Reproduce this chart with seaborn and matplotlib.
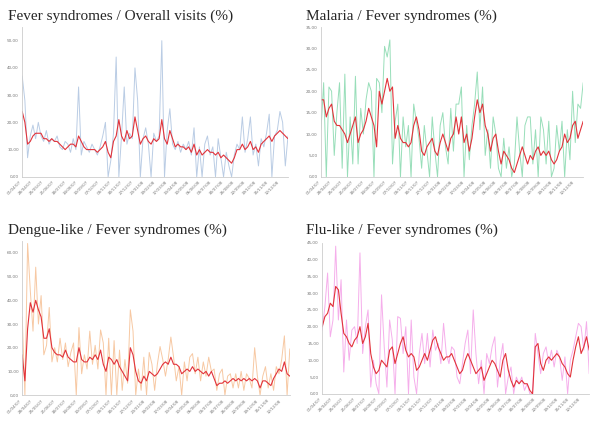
import seaborn as sns
import matplotlib.pyplot as plt
import pandas as pd

# valeurs (echantillon tous les ~6 jours)
fievre_brut = [37, 28, 7, 15, 19, 14, 20, 15, 13, 17, 12, 14, 13, 15, 11, 10, 13, 12, 9, 14,
               10, 33, 8, 13, 11, 9, 12, 10, 8, 11, 15, 20, 0, 6, 16, 44, 0, 15, 33, 12,
               16, 14, 40, 28, 0, 14, 18, 12, 0, 16, 13, 15, 50, 0, 17, 25, 12, 10, 13, 9,
               12, 10, 13, 8, 18, 0, 11, 0, 12, 15, 8, 11, 0, 14, 7, 0, 9, 4, 0, 8,
               12, 10, 22, 9, 14, 22, 8, 12, 4, 14, 11, 16, 23, 0, 15, 17, 24, 20, 4, 15]
fievre_moy = [24, 20, 12, 13, 15, 16, 16, 16, 14, 14, 13, 14, 13, 13, 12, 11, 10, 11, 12, 12,
              11, 15, 13, 11, 10, 10, 10, 10, 9, 10, 11, 13, 9, 7, 13, 15, 21, 15, 13, 17,
              14, 15, 22, 17, 12, 14, 15, 13, 12, 14, 13, 14, 21, 14, 12, 17, 14, 11, 12, 11,
              11, 10, 11, 9, 12, 8, 10, 8, 9, 10, 9, 9, 8, 9, 7, 8, 7, 6, 5, 7,
              10, 10, 12, 10, 11, 13, 10, 11, 9, 12, 13, 14, 15, 13, 15, 16, 17, 16, 15, 14]

palu_brut = [11, 22, 0, 21, 20, 5, 15, 22, 2, 24, 0, 14, 3, 23.5, 3, 16, 10, 18, 22, 20,
             0, 23, 22, 15, 30.5, 28, 32, 3, 13, 17, 0, 14, 7, 12, 0, 17, 13, 9, 2, 12,
             6, 0, 14, 6, 0, 12, 15, 7, 3, 16, 6, 17, 17, 21, 0, 12, 4, 12, 17, 24.5,
             11, 21, 5, 11, 2, 14, 10, 2, 0, 9, 2, 7, 0, 3, 14, 6, 0, 12, 14, 14,
             3, 11, 0, 14, 11, 3, 13, 0, 2, 12, 6, 13, 0, 11, 4, 20, 8, 17, 16, 22]
palu_moy = [18, 18, 14, 16, 17, 13, 12, 12, 11, 10, 8, 10, 12, 14, 8, 10, 11, 13, 16, 14,
            12, 7, 20, 17, 20, 23, 20, 21, 9, 12, 9, 8, 8, 7, 8, 12, 14, 11, 6, 5,
            7, 8, 9, 6, 5, 8, 10, 8, 6, 9, 10, 14, 10, 14, 8, 10, 6, 9, 14, 18,
            15, 17, 12, 10, 6, 9, 10, 6, 3, 6, 5, 4, 2, 1, 3, 5, 7, 5, 3, 5,
            4, 6, 7, 5, 6, 5, 6, 4, 3, 4, 6, 7, 10, 8, 9, 12, 13, 9, 11, 13]

dengue_brut = [33, 0, 64, 44, 27, 54, 30, 42, 17, 21, 37, 14, 20, 14, 24, 15, 22, 12, 18, 22,
               0, 28.5, 9, 17, 11, 27, 13, 21, 11, 27.5, 22, 0, 24, 0, 23, 0, 19, 2, 15, 5,
               36, 27, 0, 11, 2, 16, 0, 18, 13, 2, 13, 20.5, 15, 8, 15, 24.5, 16, 6, 12, 0,
               14, 6, 16, 17.5, 9, 16, 6, 14, 8, 16, 10, 11, 2, 9, 11, 0, 8, 9, 3, 9,
               3, 10, 2, 9, 7, 3, 20, 8, 0, 8, 12, 3, 9, 2, 12, 9, 15, 25, 0, 19.5]
dengue_moy = [17, 6, 28, 39, 35, 40, 36, 33, 24, 24, 28, 20, 18, 17, 17, 16, 19, 16, 15, 14,
              14, 20, 15, 14, 14, 16, 15, 17, 15, 19, 13, 10, 16, 15, 13, 15, 12, 10, 8, 6,
              20, 17, 10, 6, 5, 8, 6, 10, 9, 8, 9, 11, 13, 14, 13, 16, 13, 13, 12, 9,
              10, 11, 10, 12, 10, 11, 10, 9, 10, 8, 10, 7, 4, 5, 5, 6, 5, 6, 7, 6,
              7, 6, 7, 6, 7, 6, 7, 6, 3, 6, 6, 5, 4, 7, 9, 11, 10, 14, 9, 8]

grippe_brut = [19, 26, 36, 17, 22, 44, 22, 34, 6.5, 22, 10, 19, 20, 15, 42, 12, 20, 25, 2, 10,
               3, 0, 29.5, 14, 2, 22, 16, 0, 23, 22.5, 12, 20, 0, 22, 5, 0, 12, 18, 9, 18,
               8, 19, 13, 15, 9, 21, 12, 9, 14, 13, 5, 3, 9, 15, 19, 6, 25, 12, 3, 10,
               0, 12, 9, 14, 17, 2, 10, 15, 0, 5, 8, 0, 5, 3, 5, 1, 3, 0, 0, 18,
               12, 6, 12, 14, 9, 13, 8, 13, 11, 4, 11, 0, 10, 13, 17, 21, 20, 13, 21.5, 6]
grippe_moy = [20, 23, 24, 27, 26, 32, 31, 24, 18, 17, 15, 14, 16, 17, 20, 15, 17, 21, 12, 8,
              6, 7, 10, 9, 8, 13, 14, 9, 12, 15, 17, 13, 11, 12, 11, 7, 8, 10, 12, 10,
              13, 16, 17, 14, 12, 10, 11, 11, 12, 10, 8, 6, 7, 10, 12, 10, 8, 6, 7, 8,
              4, 6, 8, 10, 9, 7, 5, 10, 12, 7, 4, 2, 4, 3, 4, 3, 3, 1, 0, 14,
              15, 9, 7, 10, 11, 10, 11, 12, 11, 9, 8, 6, 5, 10, 14, 17, 12, 14, 17, 13]

titres = ["Fever syndromes / Overall visits (%)", "Malaria / Fever syndromes (%)",
          "Dengue-like / Fever syndromes (%)", "Flu-like / Fever syndromes (%)"]
couleurs = ["#a9c0de", "#7fd6a8", "#f5bb8c", "#f39ae6"]
y_max = [55, 35, 65, 45]
y_pas = [10, 5, 10, 5]

dates = pd.date_range("2007-04-01", "2008-12-31", periods=100)
graduations = pd.date_range("2007-04-01", "2008-12-31", freq="27D")

sns.set_style("white")
plt.rcParams['font.family'] = ['DejaVu Sans']

fig = plt.figure(figsize=(6, 4.23), dpi=100)
positions = [[0.037, 0.582, 0.443, 0.354], [0.535, 0.582, 0.437, 0.354],
             [0.037, 0.066, 0.446, 0.364], [0.537, 0.069, 0.445, 0.357]]
series = [(fievre_brut, fievre_moy), (palu_brut, palu_moy),
          (dengue_brut, dengue_moy), (grippe_brut, grippe_moy)]

for k in range(4):
    ax = fig.add_axes(positions[k])
    brut, moy = series[k]
    df = pd.DataFrame({"date": dates, "brut": brut, "moy": moy})
    sns.lineplot(data=df, x="date", y="brut", ax=ax, color=couleurs[k], lw=0.7, alpha=0.8)
    sns.lineplot(data=df, x="date", y="moy", ax=ax, color="#e2333b", lw=0.8)
    ax.set_xlim(dates[0], dates[-1])
    ax.set_ylim(0, y_max[k])
    yt = list(range(0, y_max[k] + 1, y_pas[k]))
    ax.set_yticks(yt)
    ax.set_yticklabels([f"{v},00" for v in yt], fontsize=3, color="#777777")
    ax.set_xticks(graduations)
    ax.set_xticklabels([d.strftime("%d/%m/%y") for d in graduations], fontsize=3,
                       color="#777777", rotation=45, ha="right")
    ax.tick_params(length=1.5, width=0.4, color="#bbbbbb", pad=1)
    ax.set_xlabel("")
    ax.set_ylabel("")
    for s in ["top", "right"]:
        ax.spines[s].set_visible(False)
    for s in ["left", "bottom"]:
        ax.spines[s].set_color("#cccccc")
        ax.spines[s].set_linewidth(0.6)

# titres en serif, alignes a gauche
fig.text(0.013, 0.952, titres[0], fontsize=11, family="Liberation Serif")
fig.text(0.51, 0.952, titres[1], fontsize=11, family="Liberation Serif")
fig.text(0.013, 0.447, titres[2], fontsize=11, family="Liberation Serif")
fig.text(0.51, 0.447, titres[3], fontsize=11, family="Liberation Serif")

fig.savefig("out.png", dpi=100)
